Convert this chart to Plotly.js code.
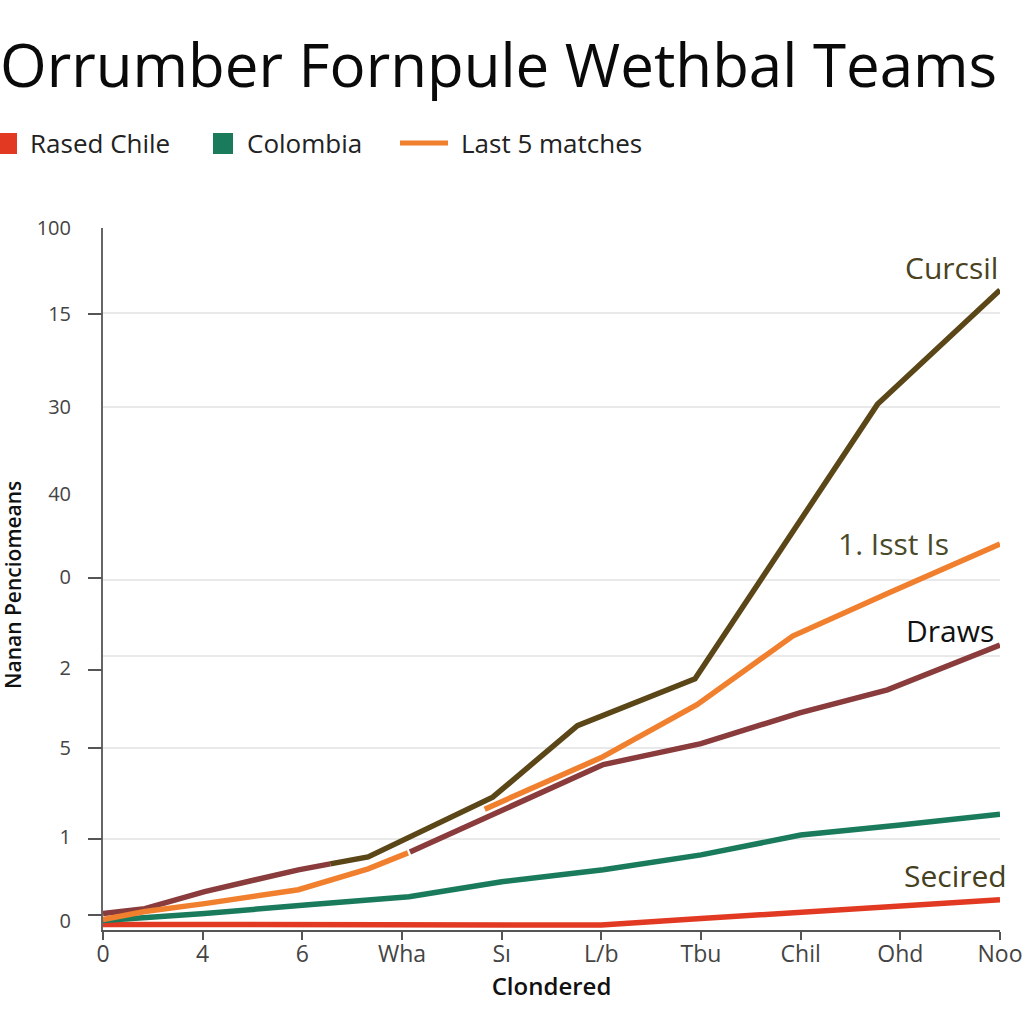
<!DOCTYPE html>
<html>
<head>
<meta charset="utf-8">
<script src="https://cdn.plot.ly/plotly-3.0.1.min.js"></script>
<style>html,body{margin:0;padding:0;background:#fff;}#chart{width:1024px;height:1024px;}</style>
</head>
<body>
<div id="chart"></div>
<script>
// ---- data ----
const xTickVals = [0, 1, 2, 3, 4, 5, 6, 7, 8, 9];
const xTickText = ["0", "4", "6", "Wha", "Sı", "L/b", "Tbu", "Chil", "Ohd", "Noo"];

const yLabelVals = [100, 87.7, 74.4, 62, 50, 37, 25.6, 12.8, 0.85];
const yLabelText = ["100", "15", "30", "40", "0", "2", "5", "1", "0"];
const yGridVals = [87.9, 74.4, 49.6, 38.7, 25.6, 12.5];
const yTickMarkVals = [87.7, 49.9, 36.8, 25.6, 12.5, 1.6];

// Curcsil (dark olive)
const curcsilX = [2.28, 2.66, 3.91, 4.76, 5.94, 7.77, 9];
const curcsilY = [8.97, 9.97, 18.52, 28.77, 35.47, 74.79, 91.17];

// Draws (maroon)
const drawsX = [0, 0.42, 1.02, 1.96, 2.28, null, 3.08, 3.91, 5.02, 6.0, 6.99, 7.87, 9];
const drawsY = [1.85, 2.56, 4.99, 8.12, 8.97, null, 10.68, 16.1, 23.2, 26.2, 30.6, 33.9, 40.3];

// Last 5 matches / 1. Isst Is (orange)
const lastX = [0, 0.42, 1.02, 1.96, 2.66, 3.06, null, 3.83, 5.0, 5.96, 6.92, 7.87, 9];
const lastY = [1.0, 2.14, 3.28, 5.27, 8.26, 10.54, null, 16.81, 24.2, 31.77, 41.6, 47.7, 54.8];

// Colombia (green)
const colombiaX = [0, 1.02, 2.06, 3.07, 4, 5.02, 6, 7, 8, 9];
const colombiaY = [0.85, 1.85, 3.13, 4.27, 6.41, 8.12, 10.26, 13.1, 14.53, 16.1];

// Rased Chile / Secired (red)
const chileX = [0, 1, 2, 3, 4, 5, 6, 7, 8, 9];
const chileY = [0.3, 0.25, 0.25, 0.3, 0.2, 0.2, 1.14, 1.99, 2.85, 3.85];

const legendNames = ["Rased Chile", "Colombia", "Last 5 matches"];
const endLabels = ["Curcsil", "1. Isst Is", "Draws", "Secired"];

const C = {olive: "#5a4616", maroon: "#8a3b3b", orange: "#f07f2e", green: "#1a7b5c", red: "#e23a22"};

function line(x, y, color, yaxis) {
  return {x: x, y: y, type: "scatter", mode: "lines", connectgaps: false,
    line: {color: color, width: 5.5, shape: "linear"}, hoverinfo: "skip", showlegend: false,
    yaxis: yaxis || "y"};
}

const traces = [
  line(chileX, chileY, C.red),
  line(colombiaX, colombiaY, C.green),
  line(drawsX, drawsY, C.maroon),
  line(curcsilX, curcsilY, C.olive),
  line(lastX, lastY, C.orange),
  Object.assign(line(chileX, chileY, "rgba(0,0,0,0)", "y2"), {line: {width: 0, color: "rgba(0,0,0,0)"}})
];

const FONT = "'Open Sans', 'Noto Sans', sans-serif";
const L = 103, R = 1000, T = 228, B = 930;
const px2xp = p => (p - L) / (R - L);
const py2yp = p => (B - p) / (B - T);

const annotations = [
  {text: endLabels[0], x: 9, y: 91.17, xref: "x", yref: "y", xanchor: "right", yanchor: "bottom", xshift: 0, yshift: 0,
   showarrow: false, font: {family: FONT, size: 30, weight: 500, color: "#4a4220"}},
  {text: endLabels[1], x: 7.93, y: 54.8, xref: "x", yref: "y", xanchor: "center", yanchor: "middle", yshift: 0,
   showarrow: false, font: {family: FONT, size: 30, weight: 500, color: "#4a4a2a"}},
  {text: endLabels[2], x: 9, y: 40.3, xref: "x", yref: "y", xanchor: "right", yanchor: "bottom", xshift: -4, yshift: -8,
   showarrow: false, font: {family: FONT, size: 30, weight: 500, color: "#111111"}},
  {text: endLabels[3], x: 9, y: 3.85, xref: "x", yref: "y", xanchor: "right", yanchor: "bottom", xshift: 9, yshift: 2,
   showarrow: false, font: {family: FONT, size: 30, weight: 500, color: "#45401e"}},
  // legend texts
  {text: legendNames[0], x: px2xp(28), y: py2yp(143), xref: "paper", yref: "paper", xanchor: "left", yanchor: "middle",
   showarrow: false, font: {family: FONT, size: 26, color: "#222"}},
  {text: legendNames[1], x: px2xp(245), y: py2yp(143), xref: "paper", yref: "paper", xanchor: "left", yanchor: "middle",
   showarrow: false, font: {family: FONT, size: 26, color: "#222"}},
  {text: legendNames[2], x: px2xp(459), y: py2yp(143), xref: "paper", yref: "paper", xanchor: "left", yanchor: "middle",
   showarrow: false, font: {family: FONT, size: 26, color: "#222"}},
  // y title
  {text: "Nanan Penciomeans", x: px2xp(13), y: py2yp(585), xref: "paper", yref: "paper", xanchor: "center", yanchor: "middle",
   textangle: -90, showarrow: false, font: {family: FONT, size: 21, weight: 600, color: "#111"}}
];

const shapes = [
  {type: "rect", xref: "paper", yref: "paper", x0: px2xp(-4), x1: px2xp(17), y0: py2yp(154), y1: py2yp(133),
   fillcolor: C.red, line: {width: 0}},
  {type: "rect", xref: "paper", yref: "paper", x0: px2xp(213), x1: px2xp(233), y0: py2yp(154), y1: py2yp(133),
   fillcolor: C.green, line: {width: 0}},
  {type: "line", xref: "paper", yref: "paper", x0: px2xp(400), x1: px2xp(448), y0: py2yp(143), y1: py2yp(143),
   line: {color: C.orange, width: 5}}
];

const layout = {
  width: 1024, height: 1024,
  paper_bgcolor: "#ffffff", plot_bgcolor: "#ffffff",
  margin: {l: L, r: 1024 - R, t: T, b: 1024 - B, pad: 0},
  showlegend: false,
  font: {family: FONT, color: "#444"},
  title: {text: "Orrumber Fornpule Wethbal Teams", xref: "container", yref: "container", x: 0.0, xanchor: "left",
          y: 1 - 66 / 1024, yanchor: "middle", font: {family: FONT, size: 60, weight: 500, color: "#0a0a0a"}},
  xaxis: {range: [0, 9], tickmode: "array", tickvals: xTickVals, ticktext: xTickText,
          showline: true, linecolor: "#555", linewidth: 2, ticks: "outside", ticklen: 8, tickwidth: 2, tickcolor: "#555",
          ticklabelstandoff: -6,
          showgrid: false, zeroline: false, tickfont: {family: FONT, size: 23, color: "#444"},
          title: {text: "Clondered", standoff: 6, font: {family: FONT, size: 24, weight: 600, color: "#111"}}},
  yaxis: {range: [-0.5, 100.05], tickmode: "array", tickvals: yLabelVals, ticktext: yLabelText,
          showline: true, linecolor: "#666", linewidth: 2, ticks: "", showgrid: false, zeroline: false,
          ticklabelstandoff: 26, tickfont: {family: FONT, size: 20, color: "#444"},
          minor: {tickmode: "array", tickvals: yGridVals, showgrid: true, gridcolor: "#e9e9e9", gridwidth: 2, ticks: ""}},
  yaxis2: {range: [-0.5, 100.05], overlaying: "y", side: "left", anchor: "x", tickmode: "array", tickvals: yTickMarkVals,
           showticklabels: false, ticks: "outside", ticklen: 14, tickwidth: 2, tickcolor: "#555",
           showline: false, showgrid: false, zeroline: false},
  annotations: annotations,
  shapes: shapes
};

Plotly.newPlot("chart", traces, layout, {staticPlot: true, displayModeBar: false});
</script>
</body>
</html>
